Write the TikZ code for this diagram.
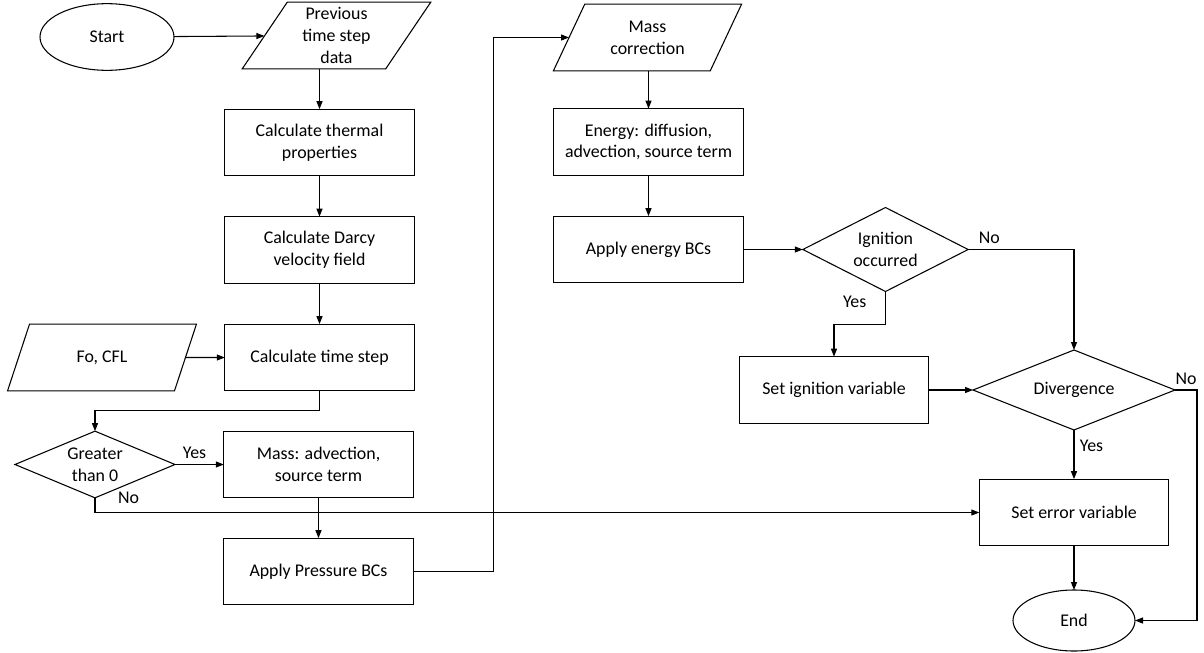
\documentclass[tikz,border=0pt]{standalone}
\usepackage{fontspec}
\setmainfont{Carlito}
\usetikzlibrary{shapes.geometric,arrows.meta,positioning}

\begin{document}
\begin{tikzpicture}[x=0.75pt, y=-0.75pt, line width=0.8pt,
	font=\fontsize{13.4}{16.4}\selectfont,
	process/.style = { draw, minimum width=142pt, minimum height=50pt,
			align=center, outer sep=0pt },
	io/.style = { draw, trapezium, trapezium left angle=61,
			trapezium right angle=119, trapezium stretches=true,
			minimum width=142pt, minimum height=50pt, inner sep=0pt,
			align=center, outer sep=0pt },
	terminal/.style = { draw, ellipse, minimum width=100.5pt,
			minimum height=50pt, outer sep=0pt },
	decision/.style = { draw, diamond, aspect=2.4, inner sep=0pt,
			align=center, outer sep=0pt },
	flow/.style = { -{Triangle[length=6pt,width=4.5pt]} },
	lbl/.style = { inner sep=4pt }]

  \useasboundingbox (0,0) rectangle (1204,653);

  % left column
  \node[name=start, terminal] at (107,37) {Start};
  \node[name=prev, io] at (336.5,35.5) {Previous\\time step\\data};
  \node[name=thermal, process] at (319.5,142.5) {Calculate thermal\\properties};
  \node[name=darcy, process] at (319.5,250) {Calculate Darcy\\velocity field};
  \node[name=tstep, process] at (319.5,357.5) {Calculate time step};
  \node[name=fo, io] at (102,357.5) {Fo, CFL};
  \node[name=gt, decision, minimum width=120pt, minimum height=50pt]
	at (95,464.5) {Greater\\than 0};
  \node[name=mass, process] at (318.5,464.5) {Mass: advection,\\source term};
  \node[name=press, process] at (318.5,571.5) {Apply Pressure BCs};

  % middle column
  \node[name=mcorr, io] at (647.5,37.5) {Mass\\correction};
  \node[name=energy, process] at (648.5,142) {Energy: diffusion,\\advection, source term};
  \node[name=applyen, process] at (648.5,249.5) {Apply energy BCs};

  % right part
  \node[name=ign, decision, minimum width=124pt, minimum height=63pt]
	at (885.5,249.5) {Ignition\\occurred};
  \node[name=setign, process] at (834,390) {Set ignition variable};
  \node[name=div, decision, minimum width=151.5pt, minimum height=60pt]
	at (1074,390) {Divergence};
  \node[name=err, process] at (1074,512.5) {Set error variable};
  \node[name=end, terminal, minimum width=91.5pt, minimum height=45.75pt]
	at (1074,620.5) {End};

  \draw[flow] (start) -- (prev);
  \draw[flow] (thermal.north |- prev.south) -- (thermal);
  \draw[flow] (thermal) -- (darcy);
  \draw[flow] (darcy) -- (tstep);
  \draw[flow] (fo) -- (tstep);
  \draw[flow] (tstep.south) -- ++(0,20) -| (gt.north);
  \draw[flow] (gt) -- node[lbl, above, pos=0.4] {Yes} (mass);
  \draw[flow] (gt.south) |- (err.west);
  \node[name=gtno, lbl, right=13pt of gt.south] {No};
  \draw[flow] (mass) -- (press);
  \draw[flow] (press.east) -- ++(80,0) |- (mcorr.west);
  \draw[flow] (energy.north |- mcorr.south) -- (energy);
  \draw[flow] (energy) -- (applyen);
  \draw[flow] (applyen) -- (ign);
  \draw[flow] (ign.south) -- ++(0,33) -| (setign.north);
  \node[name=ignyes, lbl, left=10pt of ign.south, yshift=-8pt] {Yes};
  \draw[flow] (ign.east) -| node[lbl, pos=0.1, above] {No} (div.north);
  \draw[flow] (setign) -- (div);
  \draw[flow] (div) -- node[lbl, right, pos=0.33] {Yes} (err);
  \draw[flow] (div.east) -- node[lbl, above] {No} ++(22,0) |- (end.east);
  \draw[flow] (err) -- (end);
\end{tikzpicture}
\end{document}
